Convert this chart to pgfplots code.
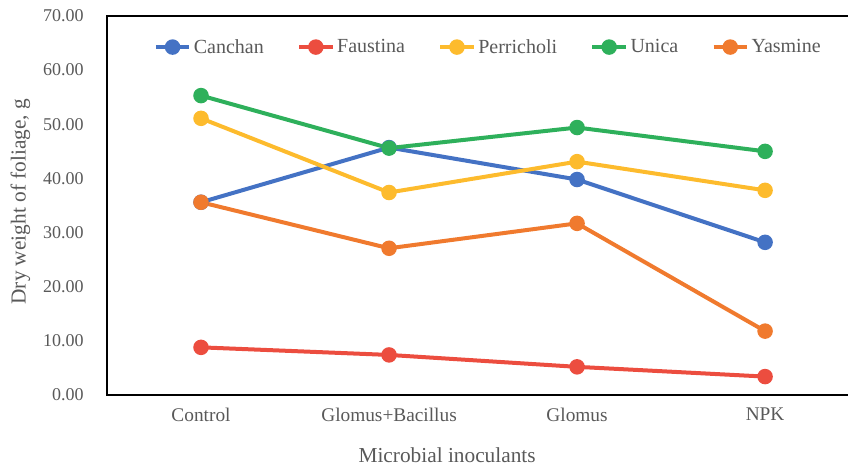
\documentclass[border=0pt]{standalone}
\usepackage{pgfplots}
\pgfplotsset{compat=1.18}
\usepackage{fontspec}
\setmainfont{Liberation Serif}

\definecolor{cCanchan}{HTML}{4472C4}
\definecolor{cFaustina}{HTML}{EC4D3F}
\definecolor{cPerricholi}{HTML}{FDBB2D}
\definecolor{cUnica}{HTML}{2EB05B}
\definecolor{cYasmine}{HTML}{F07A2E}
\definecolor{txt}{HTML}{595959}

% 1 px of the reference = 0.75pt
\newlength{\px}\setlength{\px}{0.75pt}

\begin{document}
\begin{tikzpicture}
\begin{axis}[
    name=ax,
    scale only axis,
    width=741\px, height=379\px,
    xmin=-0.5, xmax=3.441,
    ymin=0, ymax=70,
    ytick distance=10,
    xtick={0,1,2,3},
    xticklabels={Control, Glomus+Bacillus, Glomus, NPK},
    major tick length=0pt,
    yticklabel style={/pgf/number format/fixed, /pgf/number format/fixed zerofill,
        /pgf/number format/precision=2, /pgf/number format/assume math mode=true},
    yticklabel style={font=\fontsize{13.5}{15}\selectfont, text=txt, xshift=-14pt},
    xticklabel style={font=\fontsize{14.5}{16}\selectfont, text=txt, yshift=-6pt},
    ylabel={Dry weight of foliage, g},
    ylabel style={font=\fontsize{16}{18}\selectfont, text=txt, at={(axis description cs:-0.117,0.51)}, anchor=center},
    xlabel={Microbial inoculants},
    xlabel style={font=\fontsize{16}{18}\selectfont, text=txt, at={(axis description cs:0.459,-0.158)}, anchor=center},
    axis line style={draw=none},
    after end axis/.code={
        \draw[black, line width=1.1pt] (rel axis cs:1.01,1) -- (rel axis cs:0,1) -- (rel axis cs:0,0) -- (rel axis cs:1.01,0);
    },
    every axis plot/.append style={line width=3pt, mark=*, mark size=4.3pt},
    legend style={at={(axis description cs:0.515,0.918)}, anchor=center, draw=none, fill=none,
        legend columns=5, font=\fontsize{15}{17}\selectfont, text=txt,
        /tikz/every even column/.append style={column sep=23pt}},
    legend image code/.code={
        \draw[#1, mark repeat=2, mark phase=2] plot coordinates {(0pt,0pt) (12.5pt,0pt) (25pt,0pt)};
    },
]
\addplot[color=cCanchan] coordinates {(0,35.6) (1,45.7) (2,39.8) (3,28.2)};
\addplot[color=cFaustina] coordinates {(0,8.8) (1,7.4) (2,5.2) (3,3.4)};
\addplot[color=cPerricholi] coordinates {(0,51.1) (1,37.4) (2,43.1) (3,37.8)};
\addplot[color=cUnica] coordinates {(0,55.3) (1,45.6) (2,49.4) (3,45.0)};
\addplot[color=cYasmine] coordinates {(0,35.6) (1,27.1) (2,31.7) (3,11.8)};
\legend{Canchan, Faustina, Perricholi, Unica, Yasmine}
\end{axis}
\pgfresetboundingbox
\useasboundingbox ([xshift=-107\px, yshift=-75\px]ax.south west) rectangle ([yshift=16\px]ax.north east);
\end{tikzpicture}
\end{document}
